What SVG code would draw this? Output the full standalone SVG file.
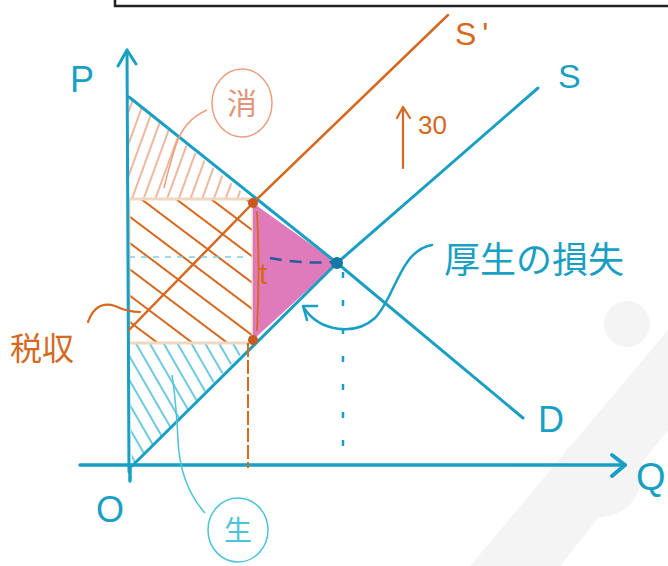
<svg xmlns="http://www.w3.org/2000/svg" width="668" height="566" viewBox="0 0 668 566">
<style>
.teal{stroke:#1a9fc4;fill:none;stroke-linecap:round;stroke-linejoin:round}
.org{stroke:#d4691f;fill:none;stroke-linecap:round;stroke-linejoin:round}
.lbl{font-family:"Liberation Sans","Noto Sans CJK JP",sans-serif}
.tt{fill:#1a9fc4}
.ot{fill:#d4691f}
</style>
<defs>
<pattern id="hCS" width="11" height="11" patternUnits="userSpaceOnUse" patternTransform="rotate(20)"><line x1="5" y1="0" x2="5" y2="11" stroke="#e8a080" stroke-width="1.5"/></pattern>
<pattern id="hPS" width="12" height="12" patternUnits="userSpaceOnUse" patternTransform="rotate(-30)"><line x1="6" y1="0" x2="6" y2="12" stroke="#3cbad4" stroke-width="1.5"/></pattern>
<pattern id="hTX" width="21" height="21" patternUnits="userSpaceOnUse" patternTransform="rotate(-53)"><line x1="10" y1="0" x2="10" y2="21" stroke="#d4691f" stroke-width="2"/></pattern>
</defs>
<rect width="668" height="566" fill="#ffffff"/>
<g id="watermark" fill="#f4f4f4">
<circle cx="627" cy="324" r="23"/>
<path d="M470,566 L668,330 L668,430 L560,566 Z"/>
<circle cx="600" cy="475" r="42"/>
</g>
<rect id="topbox" x="115" y="-10" width="570" height="16" fill="none" stroke="#222" stroke-width="2.5"/>
<g id="areas">
<polygon id="cs" points="129,97 250,199 129,199" fill="url(#hCS)"/>
<polygon id="ps" points="129,343 252,343 132,466" fill="url(#hPS)"/>
<rect id="tax" x="129" y="199" width="124" height="144" fill="url(#hTX)" stroke="#f0d8c0" stroke-width="3"/>
<polygon id="dwl" points="253,203 337,263 253,340" fill="#dc6cb4" opacity="0.9"/>
</g>
<g id="connectors">
<line class="teal" x1="80" y1="465" x2="625" y2="465" stroke-width="3.5"/>
<polyline class="teal" points="612,455 625,465 612,476" stroke-width="4"/>
<line class="teal" x1="129" y1="472" x2="127" y2="50" stroke-width="3"/>
<polyline class="teal" points="118,66 127,50 136,64" stroke-width="3"/>
<line class="teal" x1="130" y1="466" x2="130" y2="481" stroke-width="3.5"/>
<polyline id="D" class="teal" points="129,97 337,263 523,418" stroke-width="3"/>
<polyline id="S" class="teal" points="132,466 337,263 538,88" stroke-width="3"/>
<polyline id="S2" class="org" points="129,330 253,203 448,15" stroke-width="2.5"/>
<line x1="129" y1="257" x2="248" y2="257" stroke="#7fd0e0" stroke-width="1.5" stroke-dasharray="6 6"/>
<path d="M270,258 Q300,264 333,262" fill="none" stroke="#2a5aa0" stroke-width="2.5" stroke-dasharray="12 8"/>
<line x1="343" y1="272" x2="343" y2="468" stroke="#1a9fc4" stroke-width="2.5" stroke-dasharray="6 22"/>
<line x1="248" y1="343" x2="248" y2="468" stroke="#d4691f" stroke-width="2" stroke-dasharray="14 3"/>
<path class="org" d="M257,212 Q260,270 257,330" stroke-width="1.8"/>
<line class="org" x1="403" y1="168" x2="403" y2="107" stroke-width="2.2"/>
<polyline class="org" points="397,118 403,107 410,118" stroke-width="2.2"/>
<path d="M207,110 Q184,120 176,145 T164,188" fill="none" stroke="#e8a080" stroke-width="1.5"/>
<path d="M205,513 Q180,485 178,440 Q176,400 172,375" fill="none" stroke="#4cc4d8" stroke-width="1.5"/>
<path class="org" d="M88,322 Q96,300 115,306 Q128,312 140,312" stroke-width="2.2"/>
<path class="teal" d="M432,245 C400,250 395,298 375,318 C355,336 320,332 304,308" stroke-width="2.5"/>
<polyline class="teal" points="317,306 303,306 307,320" stroke-width="2.5"/>
</g>
<g id="points">
<circle cx="253" cy="203" r="5" fill="#c85a20"/>
<circle cx="253" cy="340" r="5" fill="#c85a20"/>
<circle cx="337" cy="263" r="6" fill="#1478a0"/>
</g>
<g id="labels" class="lbl">
<text x="70" y="92" font-size="36" class="tt">P</text>
<text x="96" y="522" font-size="36" class="tt">O</text>
<text x="636" y="490" font-size="38" class="tt">Q</text>
<text x="538" y="432" font-size="36" class="tt">D</text>
<text x="558" y="88" font-size="34" class="tt">S</text>
<text x="455" y="45" font-size="32" class="ot" letter-spacing="6">S'</text>
<text x="418" y="134" font-size="26" class="ot">30</text>
<text x="259" y="284" font-size="30" class="ot">t</text>
<text x="444" y="273" font-size="36" class="tt">厚生の損失</text>
<text x="10" y="360" font-size="32" class="ot">税収</text>
</g>
<g id="cs-label">
<ellipse cx="242" cy="103" rx="30" ry="34" fill="none" stroke="#e8a080" stroke-width="1.5"/>
<text x="242" y="114" font-size="30" text-anchor="middle" class="lbl" fill="#e0967a">消</text>
</g>
<g id="ps-label">
<ellipse cx="238" cy="530" rx="30" ry="32" fill="none" stroke="#4cc4d8" stroke-width="1.5"/>
<text x="238" y="541" font-size="28" text-anchor="middle" class="lbl" fill="#4cc4d8">生</text>
</g>
</svg>
